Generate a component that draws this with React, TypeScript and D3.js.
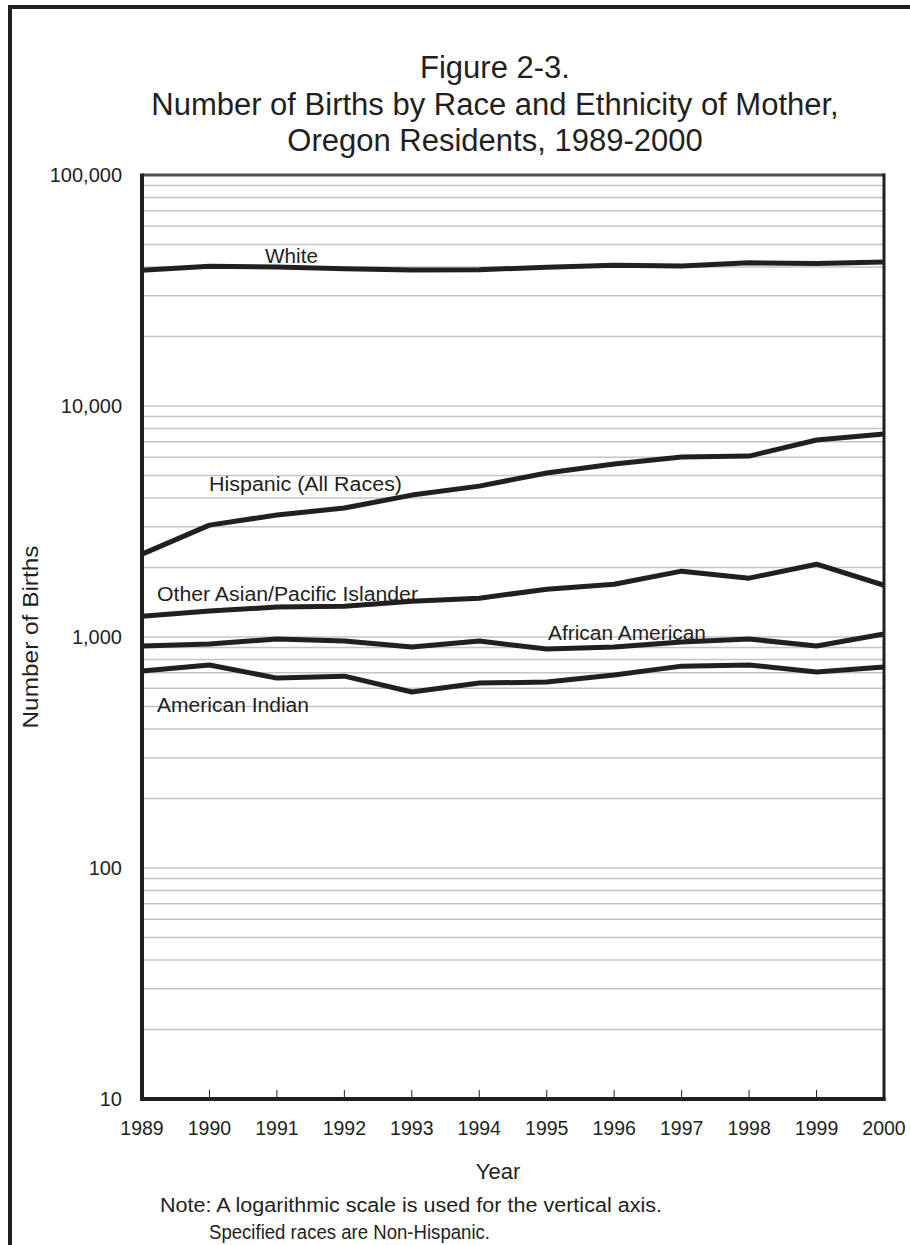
import React from "react";
import * as d3 from "d3";

const years = [1989, 1990, 1991, 1992, 1993, 1994, 1995, 1996, 1997, 1998, 1999, 2000];
const white = [38700, 40300, 40000, 39300, 38800, 38900, 39900, 40700, 40400, 41700, 41400, 42000];
const hispanic = [2285, 3050, 3375, 3615, 4115, 4500, 5130, 5610, 6010, 6070, 7125, 7570];
const asianPI = [1230, 1295, 1347, 1360, 1428, 1472, 1611, 1693, 1928, 1798, 2066, 1675];
const africanAmerican = [914, 933, 980, 961, 905, 961, 887, 905, 951, 980, 914, 1030];
const americanIndian = [712, 757, 664, 677, 578, 632, 638, 685, 748, 757, 705, 741];
const yTickValues = [10, 100, 1000, 10000, 100000];
const titleLines = [
  "Figure 2-3.",
  "Number of Births by Race and Ethnicity of Mother,",
  "Oregon Residents, 1989-2000",
];

const series = [
  { name: "White", values: white, lx: 265, ly: 263, lw: 53 },
  { name: "Hispanic (All Races)", values: hispanic, lx: 209, ly: 491, lw: 193 },
  { name: "Other Asian/Pacific Islander", values: asianPI, lx: 157, ly: 601, lw: 261 },
  { name: "African American", values: africanAmerican, lx: 548, ly: 640, lw: 158 },
  { name: "American Indian", values: americanIndian, lx: 157, ly: 712, lw: 152 },
];

const FONT = "'Liberation Sans', Arial, Helvetica, sans-serif";
const INK = "#231f20";

export default function App() {
  const left = 142, right = 884, top = 175, bottom = 1099;
  const x = d3.scaleLinear().domain([1989, 2000]).range([left, right]);
  const y = d3.scaleLog().domain([10, 100000]).range([bottom, top]);

  const gridVals: number[] = [];
  for (let d = 10; d < 100000; d *= 10) {
    for (let k = 1; k <= 9; k++) gridVals.push(k * d);
  }

  const line = d3
    .line<number>()
    .x((_, i) => x(years[i]))
    .y((v) => y(v));

  const fmt = d3.format(",");

  return (
    <svg
      width={910}
      height={1245}
      style={{ position: "absolute", left: 0, top: 0, background: "#fff" }}
      fontFamily={FONT}
    >
      <rect x={0} y={0} width={910} height={1245} fill="#fff" />
      {/* outer frame */}
      <rect x={10} y={7} width={1000} height={2000} fill="none" stroke={INK} strokeWidth={4} />

      {/* title */}
      {titleLines.map((t, i) => (
        <text key={i} x={495} y={78 + i * 36.5} textAnchor="middle" fontSize={31} fill={INK}>
          {t}
        </text>
      ))}

      {/* grid */}
      {gridVals.map((v) => (
        <line key={v} x1={left} x2={right} y1={y(v)} y2={y(v)} stroke="#c4c4c4" strokeWidth={1.5} />
      ))}
      <line x1={left} x2={right} y1={y(100000)} y2={y(100000)} stroke="#4d4d4d" strokeWidth={3} />

      {/* x ticks */}
      {years.slice(1, -1).map((yr) => (
        <line key={yr} x1={x(yr)} x2={x(yr)} y1={bottom} y2={bottom - 9} stroke={INK} strokeWidth={1} />
      ))}

      {/* axes frame */}
      <line x1={left} x2={left} y1={top - 1.5} y2={bottom + 2} stroke={INK} strokeWidth={4} />
      <line x1={right} x2={right} y1={top - 1.5} y2={bottom + 2} stroke={INK} strokeWidth={3} />
      <line x1={left - 2} x2={right + 1.5} y1={bottom} y2={bottom} stroke={INK} strokeWidth={4} />

      {/* y tick labels */}
      {yTickValues.map((v) => (
        <text key={v} x={122} y={y(v)} dy="0.36em" textAnchor="end" fontSize={20} fill={INK}>
          {fmt(v)}
        </text>
      ))}

      {/* x tick labels */}
      {years.map((yr) => (
        <text key={yr} x={x(yr)} y={1135} textAnchor="middle" fontSize={19.5} fill={INK}>
          {yr}
        </text>
      ))}

      {/* series */}
      {series.map((s) => (
        <path
          key={s.name}
          d={line(s.values) || ""}
          fill="none"
          stroke={INK}
          strokeWidth={5}
          strokeLinejoin="round"
        />
      ))}
      {series.map((s) => (
        <text
          key={s.name + "l"}
          x={s.lx}
          y={s.ly}
          fontSize={19.5}
          fill={INK}
          textLength={s.lw}
          lengthAdjust="spacingAndGlyphs"
        >
          {s.name}
        </text>
      ))}

      {/* axis titles */}
      <text
        transform="translate(38,637) rotate(-90)"
        textAnchor="middle"
        fontSize={22}
        fill={INK}
        textLength={183}
        lengthAdjust="spacingAndGlyphs"
      >
        Number of Births
      </text>
      <text x={498} y={1179} textAnchor="middle" fontSize={22} fill={INK}>
        Year
      </text>

      {/* notes */}
      <text x={160} y={1212} fontSize={19.5} fill={INK} textLength={502} lengthAdjust="spacingAndGlyphs">
        Note:  A logarithmic scale is used for the vertical axis.
      </text>
      <text x={209} y={1239} fontSize={19.5} fill={INK} textLength={281} lengthAdjust="spacingAndGlyphs">
        Specified races are Non-Hispanic.
      </text>
    </svg>
  );
}
